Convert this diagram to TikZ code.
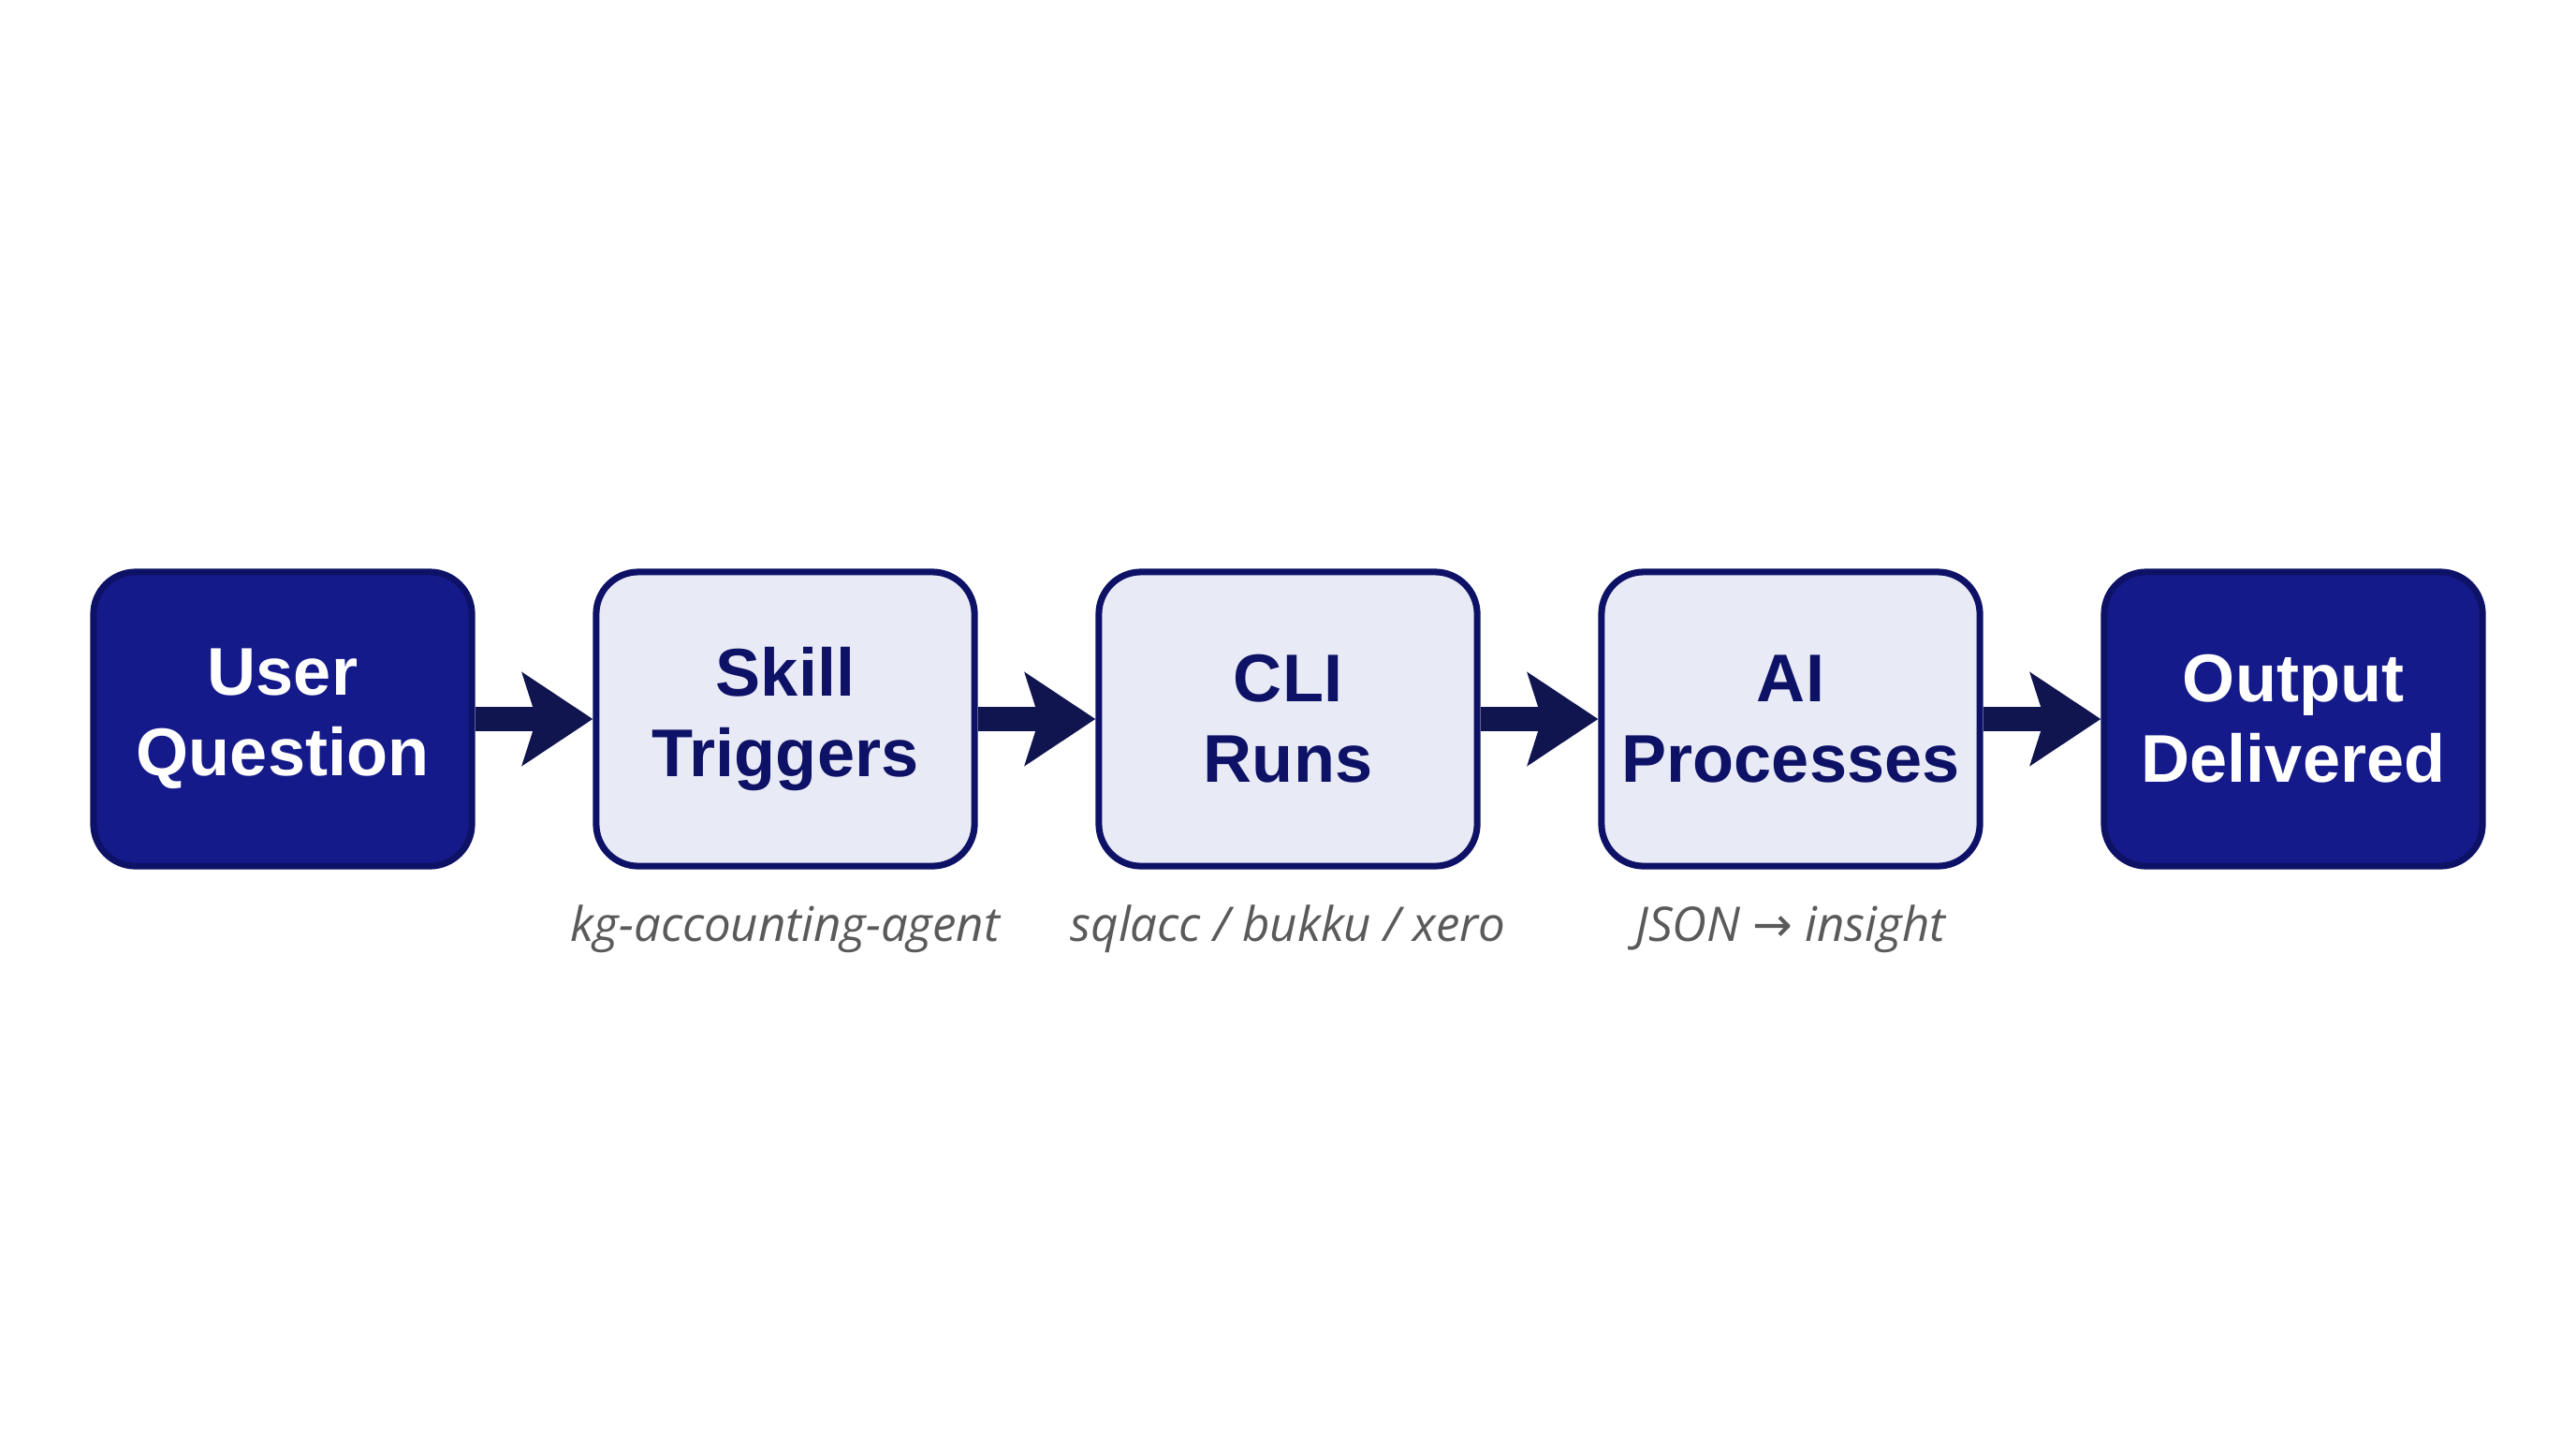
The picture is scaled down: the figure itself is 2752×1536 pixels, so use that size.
\documentclass[tikz,border=0pt]{standalone}
\usepackage{fontspec}
\usetikzlibrary{arrows.meta}
\setmainfont{Liberation Sans}
\newfontfamily\labfont{Open Sans}
\newfontfamily\symfont{DejaVu Sans}
\definecolor{navy}{HTML}{151A8A}
\definecolor{navyedge}{HTML}{0E1266}
\definecolor{lightfill}{HTML}{E8EAF6}
\definecolor{arrowc}{HTML}{10154F}
\definecolor{labgray}{HTML}{5A5A5A}
\begin{document}
\begin{tikzpicture}[x=0.01cm,y=-0.01cm,
  boxbase/.style={rounded corners=0.45cm, line width=2pt, minimum width=4.04cm, minimum height=3.14cm, align=center, font=\fontsize{20.5}{24.5}\selectfont\bfseries, inner sep=0pt},
  darkbox/.style={boxbase, fill=navy, draw=navyedge, text=white},
  lightbox/.style={boxbase, fill=lightfill, draw=navyedge, text=navyedge},
  lab/.style={font=\labfont\itshape\fontsize{14.5}{18}\selectfont, text=labgray},
  flow/.style={draw=arrowc, line width=0.26cm, -{Stealth[length=0.75cm,width=0.98cm,inset=0.15cm]}, shorten >=0pt}]
\useasboundingbox (0,0) rectangle (2752,1536);
\fill[white] (0,0) rectangle (2752,1536);
\node[darkbox] (a) at (302,768) {User\\Question};
\node[lightbox] (b) at (839,768) {Skill\\Triggers};
\node[lightbox] (c) at (1376,768) {CLI\\Runs};
\node[lightbox] (d) at (1913,768) {AI\\Processes};
\node[darkbox] (e) at (2450,768) {Output\\Delivered};
\foreach \p/\q in {a/b,b/c,c/d,d/e} \draw[flow] (\p.east) -- (\q.west);
\node[lab] (lb) at (839,992) {kg-accounting-agent};
\node[lab] (lc) at (1376,992) {sqlacc / bukku / xero};
\node[lab] (ld) at (1913,992) {JSON {\symfont\upshape →} insight};
\end{tikzpicture}
\end{document}
